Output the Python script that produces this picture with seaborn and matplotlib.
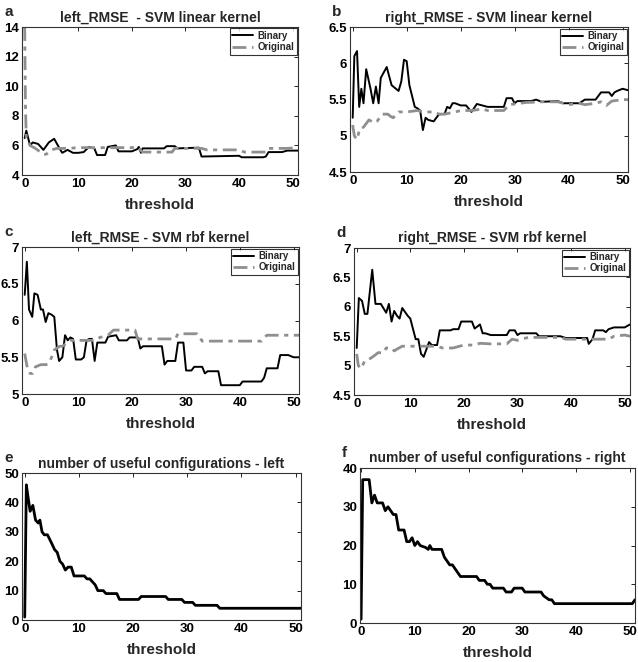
import numpy as np
import pandas as pd
import matplotlib
matplotlib.use("Agg")
import matplotlib.pyplot as plt
import seaborn as sns

sns.set_style("white")
plt.rcParams['font.family'] = ['Liberation Sans', 'DejaVu Sans']
plt.rcParams['font.weight'] = 'bold'

# panel a: left_RMSE - SVM linear kernel
a_bin_x = [0, 0.3, 1, 1.5, 2.5, 3.5, 4.5, 5.5, 6.5, 7, 8, 9, 10, 11, 12, 13, 13.5, 15, 15.5, 17, 17.5,
           20, 21, 21.3, 21.7, 22, 26, 26.5, 28, 28.5, 32.5, 33, 40, 40.5, 44.5, 45, 45.5, 48, 49, 51]
a_bin_y = [6.5, 7.0, 6.0, 6.2, 6.1, 5.7, 6.2, 6.45, 5.8, 5.5, 5.7, 5.5, 5.5, 5.55, 5.9, 5.8, 5.35, 5.35, 5.9, 6.0, 5.6,
           5.6, 5.75, 5.9, 5.5, 5.8, 5.8, 5.95, 5.95, 5.8, 5.85, 5.25, 5.3, 5.2, 5.2, 5.25, 5.55, 5.55, 5.65, 5.65]
a_org_x = [0, 0.15, 0.3, 1, 2, 3.5, 4, 5, 6, 8, 10, 20, 21, 22, 27.5, 28, 33, 34, 40, 41, 45, 45.5, 49, 51]
a_org_y = [14, 8.5, 6.5, 6.0, 5.8, 5.4, 5.4, 5.7, 5.8, 5.8, 5.85, 5.85, 5.9, 5.55, 5.55, 5.8, 5.8, 5.7, 5.7, 5.55, 5.55, 5.8, 5.8, 5.85]

# panel b: right_RMSE - SVM linear kernel
b_bin_x = [0, 0.3, 0.8, 1.2, 1.6, 2.0, 2.5, 3.3, 3.8, 4.3, 4.8, 5.2, 6.3, 7.2, 8, 8.5, 9, 9.5, 10, 10.5, 11.5, 12,
           12.5, 13, 13.5, 14, 15, 16, 17, 17.5, 18, 18.5, 19, 20, 21, 22, 23, 25, 28, 28.5, 29.5, 30, 30.5, 33,
           34, 35, 38, 39, 42, 43, 45, 46, 47.5, 48, 48.5, 49, 50, 51]
b_bin_y = [5.25, 6.1, 6.17, 5.4, 5.65, 5.45, 5.92, 5.65, 5.45, 5.68, 5.45, 5.8, 5.95, 5.7, 5.65, 5.62, 5.75, 6.05, 6.03, 5.7, 5.4, 5.38,
           5.35, 5.08, 5.25, 5.22, 5.2, 5.3, 5.3, 5.4, 5.38, 5.45, 5.45, 5.42, 5.42, 5.33, 5.44, 5.4, 5.4, 5.52, 5.52, 5.45, 5.48, 5.48,
           5.5, 5.47, 5.48, 5.45, 5.45, 5.5, 5.5, 5.6, 5.6, 5.55, 5.6, 5.62, 5.65, 5.63]
b_org_x = [0, 0.3, 0.8, 1.3, 2, 3, 4, 4.5, 5.5, 6.5, 7, 7.5, 8.5, 10, 12, 13, 15, 16, 17, 19, 20, 22, 24, 25, 28,
           29, 30, 32, 35, 38, 40, 42, 43, 45, 46, 47, 48, 50, 51]
b_org_y = [5.15, 5.0, 4.95, 5.1, 5.12, 5.22, 5.18, 5.2, 5.3, 5.3, 5.27, 5.25, 5.33, 5.33, 5.35, 5.33, 5.33, 5.3, 5.3, 5.33, 5.35, 5.35, 5.37, 5.35, 5.35,
           5.43, 5.44, 5.46, 5.47, 5.47, 5.43, 5.45, 5.43, 5.45, 5.47, 5.42, 5.48, 5.5, 5.5]

# panel c: left_RMSE - SVM rbf kernel
c_bin_x = [0, 0.4, 0.8, 1.4, 1.8, 2.4, 3.0, 3.4, 3.9, 4.4, 5.0, 5.5, 6.0, 6.4, 7.0, 7.5, 8, 8.5, 9, 9.5, 10.5, 11,
           11.5, 12, 12.5, 13, 13.5, 15, 15.5, 17, 17.5, 19, 19.5, 21, 21.5, 22, 25.5, 26, 26.5, 28, 28.5, 29.5,
           30, 31, 31.5, 33, 33.5, 34, 36, 36.5, 40, 40.5, 44, 44.5, 45, 47, 47.5, 49, 50, 51]
c_bin_y = [6.35, 6.8, 6.15, 6.05, 6.37, 6.35, 6.15, 6.15, 5.98, 6.1, 6.08, 6.05, 5.6, 5.45, 5.5, 5.8, 5.73, 5.77, 5.75, 5.47, 5.47, 5.5,
           5.73, 5.75, 5.75, 5.45, 5.7, 5.7, 5.78, 5.8, 5.73, 5.73, 5.77, 5.77, 5.62, 5.65, 5.65, 5.4, 5.45, 5.45, 5.7, 5.7,
           5.32, 5.32, 5.37, 5.37, 5.28, 5.31, 5.31, 5.12, 5.12, 5.17, 5.17, 5.22, 5.35, 5.35, 5.53, 5.53, 5.5, 5.5]
c_org_x = [0, 0.5, 1, 1.5, 2, 3, 4, 4.5, 5, 5.5, 6.5, 7, 8, 8.5, 13, 14, 15.5, 16.5, 20.5, 21, 28, 28.5, 32, 33, 44, 45, 51]
c_org_y = [5.55, 5.35, 5.28, 5.28, 5.37, 5.4, 5.4, 5.42, 5.5, 5.6, 5.65, 5.65, 5.7, 5.73, 5.73, 5.77, 5.8, 5.87, 5.87, 5.75, 5.75, 5.82, 5.82, 5.72, 5.72, 5.8, 5.8]

# panel d: right_RMSE - SVM rbf kernel
d_bin_x = [0, 0.4, 1, 1.5, 2, 2.5, 2.9, 3.5, 4.5, 5.5, 6, 6.5, 7, 7.5, 8, 8.5, 9.5, 10, 11, 11.5, 12, 12.5,
           13.5, 14, 15, 15.5, 17.5, 18, 19, 19.5, 21.5, 22, 23, 23.5, 24, 25, 28, 28.5, 29.5, 30, 30.5, 33.5,
           34, 38, 39, 43, 43.3, 44, 44.5, 46, 46.5, 47, 48, 50, 51]
d_bin_y = [5.3, 6.15, 6.1, 5.88, 5.88, 6.3, 6.63, 6.05, 6.05, 5.9, 6.05, 5.75, 5.93, 5.85, 5.8, 5.98, 5.85, 5.8, 5.45, 5.45, 5.2, 5.15,
           5.4, 5.35, 5.35, 5.6, 5.6, 5.62, 5.62, 5.75, 5.75, 5.63, 5.7, 5.55, 5.55, 5.52, 5.52, 5.6, 5.6, 5.52, 5.55, 5.55,
           5.5, 5.5, 5.47, 5.47, 5.37, 5.45, 5.6, 5.6, 5.57, 5.62, 5.65, 5.65, 5.7]
d_org_x = [0, 0.3, 0.8, 1.5, 2.5, 3, 4, 5, 5.5, 6.5, 7, 7.5, 8.5, 12, 15, 16, 18, 20, 22, 23, 25, 28, 29, 30, 32,
           38, 39, 46, 47, 48, 50, 51]
d_org_y = [5.2, 5.0, 4.95, 5.08, 5.12, 5.15, 5.22, 5.22, 5.3, 5.3, 5.25, 5.28, 5.33, 5.33, 5.33, 5.3, 5.3, 5.35, 5.35, 5.38, 5.37, 5.37, 5.45, 5.43, 5.48,
           5.48, 5.45, 5.45, 5.45, 5.5, 5.52, 5.5]

# panel e: number of useful configurations - left
e_x = [0, 0.3, 0.6, 1, 1.5, 2, 2.5, 2.8, 3.2, 3.6, 4.2, 5, 5.5, 6, 6.5, 7, 7.5, 8, 8.6, 9.1, 11, 11.5, 12, 12.5,
       13, 13.5, 14.5, 15, 17, 17.5, 21, 21.5, 26, 26.5, 29, 29.5, 31, 31.5, 35.5, 36, 51]
e_y = [1, 46, 42, 37, 39, 34, 33, 34, 30, 29, 29, 26, 24, 23, 20, 19, 17, 18, 18, 15, 15, 14, 14, 13,
       12, 10, 10, 9, 9, 7, 7, 8, 8, 7, 7, 6, 6, 5, 5, 4, 4]

# panel f: number of useful configurations - right
f_x = [0, 0.3, 1.5, 2, 2.5, 3, 4, 4.5, 5, 5.5, 6, 6.5, 7, 8, 8.5, 9, 9.5, 10, 10.5, 11, 12, 12.5, 12.8, 13.2,
       15, 15.5, 16, 16.5, 17, 18, 18.5, 21.5, 22, 23, 23.5, 24, 24.5, 26.5, 27, 28, 28.5, 30, 30.5, 33.5, 34,
       35, 35.5, 36, 50.5, 51]
f_y = [1, 37, 37, 31, 33, 31, 31, 29, 30, 29, 28, 28, 24, 24, 21, 21, 22, 20, 21, 20, 19.5, 19, 20, 19,
       19, 17, 16, 15, 15, 13, 12, 12, 11, 11, 10, 10, 9, 9, 8, 8, 9, 9, 8, 8, 7,
       6, 6, 5, 5, 6]

fig = plt.figure(figsize=(6.38, 6.62), dpi=100)

boxes = {
    'a': [0.0345, 0.7356, 0.4326, 0.2236],
    'b': [0.5486, 0.7400, 0.4357, 0.2190],
    'c': [0.0345, 0.4048, 0.4342, 0.2220],
    'd': [0.5549, 0.4033, 0.4326, 0.2220],
    'e': [0.0345, 0.0634, 0.4373, 0.2220],
    'f': [0.5643, 0.0589, 0.4310, 0.2341],
}
titles = {
    'a': 'left_RMSE  - SVM linear kernel',
    'b': 'right_RMSE - SVM linear kernel',
    'c': 'left_RMSE - SVM rbf kernel',
    'd': 'right_RMSE - SVM rbf kernel',
    'e': 'number of useful configurations - left',
    'f': 'number of useful configurations - right',
}
ylims = {'a': (4, 14), 'b': (4.5, 6.5), 'c': (5, 7), 'd': (4.5, 7), 'e': (0, 50), 'f': (0, 40)}
yticks = {
    'a': [4, 6, 8, 10, 12, 14],
    'b': [4.5, 5, 5.5, 6, 6.5],
    'c': [5, 5.5, 6, 6.5, 7],
    'd': [4.5, 5, 5.5, 6, 6.5, 7],
    'e': [0, 10, 20, 30, 40, 50],
    'f': [0, 10, 20, 30, 40],
}
pairs = {
    'a': (a_bin_x, a_bin_y, a_org_x, a_org_y),
    'b': (b_bin_x, b_bin_y, b_org_x, b_org_y),
    'c': (c_bin_x, c_bin_y, c_org_x, c_org_y),
    'd': (d_bin_x, d_bin_y, d_org_x, d_org_y),
}
singles = {'e': (e_x, e_y), 'f': (f_x, f_y)}

gray = '#8f8f8f'

for key, box in boxes.items():
    ax = fig.add_axes(box)
    if key in pairs:
        bx, by, ox, oy = pairs[key]
        sns.lineplot(x=bx, y=by, ax=ax, color='black', lw=1.4, sort=False, estimator=None, label='Binary')
        sns.lineplot(x=ox, y=oy, ax=ax, color=gray, lw=2.0, sort=False, estimator=None, label='Original')
        ax.lines[-1].set_dashes([5, 2, 1.5, 2])
        leg = ax.legend(loc='upper right', fontsize=7, frameon=True, fancybox=False,
                        handlelength=2.2, borderpad=0.25, labelspacing=0.15, handletextpad=0.4,
                        borderaxespad=0.15)
        leg.get_frame().set_edgecolor('black')
        leg.get_frame().set_linewidth(0.8)
        for t in leg.get_texts():
            t.set_fontweight('bold')
    else:
        sx, sy = singles[key]
        sns.lineplot(x=sx, y=sy, ax=ax, color='black', lw=2.0, sort=False, estimator=None)

    ax.set_xlim(-0.5 if key != 'f' else -0.2, 51)
    ax.set_ylim(*ylims[key])
    ax.set_xticks([0, 10, 20, 30, 40, 50])
    ax.set_yticks(yticks[key])
    ax.set_yticklabels([('%g' % v) for v in yticks[key]])
    ax.tick_params(direction='in', top=True, right=True, length=3, width=0.6,
                   labelsize=9.5, pad=2, colors='black')
    for lab in ax.get_xticklabels() + ax.get_yticklabels():
        lab.set_fontweight('bold')
    for s in ax.spines.values():
        s.set_color('#333333')
        s.set_linewidth(0.8)
    ax.set_title(titles[key], fontsize=10, fontweight='bold', pad=4)
    ax.set_xlabel('threshold', fontsize=11, fontweight='bold', labelpad=6)
    ax.set_ylabel('')
    fig.text(box[0] - 0.028, box[1] + box[3] + 0.012, key, fontsize=11, fontweight='bold',
             ha='left', va='bottom')

fig.savefig('out.png', dpi=100)
